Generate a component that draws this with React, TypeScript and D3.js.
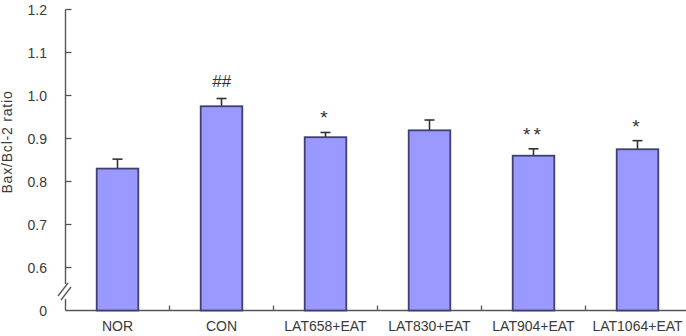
import React from "react";
import * as d3 from "d3";

const categories = ["NOR", "CON", "LAT658+EAT", "LAT830+EAT", "LAT904+EAT", "LAT1064+EAT"];
const values = [0.830, 0.975, 0.903, 0.919, 0.860, 0.875];
const errors = [0.022, 0.018, 0.011, 0.024, 0.016, 0.020];
const marks = ["", "##", "*", "", "**", "*"];
const yTicks = [0.6, 0.7, 0.8, 0.9, 1.0, 1.1, 1.2];

const W = 686;
const H = 336;

export default function App() {
  const x0 = 65.5;
  const x = d3.scaleBand<string>().domain(categories).range([x0, x0 + 624]).paddingInner(0.6).paddingOuter(0.3);
  const y = d3.scaleLinear().domain([0.5, 1.2]).range([310.5, 9.5]);
  const bw = x.bandwidth();
  const stepW = x.step();
  const bounds = categories.slice(1).map((_, i) => x0 + stepW * (i + 1));
  const font = "'Liberation Sans', Arial, sans-serif";
  const txt = "#3a3a3a";
  return (
    <svg width={W} height={H} style={{ position: "absolute", left: 0, top: 0 }}>
      <rect width={W} height={H} fill="#fff" />
      {/* y axis */}
      <line x1={x0} x2={x0} y1={y(1.2)} y2={y(0.5)} stroke="#555" strokeWidth={1.4} />
      {yTicks.map((t) => (
        <g key={t}>
          <line x1={x0} x2={x0 + 6} y1={y(t)} y2={y(t)} stroke="#555" strokeWidth={1.3} />
          <text x={47} y={y(t) + 5} fontSize={14} fontFamily={font} fill={txt} textAnchor="end">
            {t.toFixed(1)}
          </text>
        </g>
      ))}
      <text x={47} y={y(0.5) + 5} fontSize={14} fontFamily={font} fill={txt} textAnchor="end">0</text>
      {/* break marks */}
      <rect x={x0 - 2} y={284} width={5} height={15} fill="#fff" />
      <line x1={58} x2={68} y1={296} y2={283} stroke="#555" strokeWidth={1.3} />
      <line x1={61} x2={71} y1={300} y2={287} stroke="#555" strokeWidth={1.3} />
      {/* x axis */}
      <line x1={x0} x2={W} y1={y(0.5)} y2={y(0.5)} stroke="#555" strokeWidth={1.4} />
      {bounds.map((b, i) => (
        <line key={i} x1={b} x2={b} y1={y(0.5)} y2={y(0.5) - 5} stroke="#555" strokeWidth={1.3} />
      ))}
      {/* bars */}
      {categories.map((c, i) => {
        const bx = x(c)!;
        const cx = bx + bw / 2;
        const top = y(values[i]);
        const et = y(values[i] + errors[i]);
        const hash = marks[i].includes("#");
        return (
          <g key={c}>
            <line x1={cx} x2={cx} y1={top} y2={et} stroke="#333" strokeWidth={1.6} />
            <line x1={cx - 5} x2={cx + 5} y1={et} y2={et} stroke="#333" strokeWidth={1.6} />
            <rect x={bx} y={top} width={bw} height={y(0.5) - top} fill="#9999ff" stroke="#404070" strokeWidth={1.8} />
            {marks[i] && (
              <text x={cx} y={hash ? et - 12 : et - 8} fontSize={hash ? 17 : 19} fontFamily={font} fill="#333" textAnchor="middle" fontStyle={hash ? "italic" : "normal"} letterSpacing={hash ? 0 : 3}>
                {marks[i]}
              </text>
            )}
            <text x={cx} y={331} fontSize={14} fontFamily={font} fill={txt} textAnchor="middle">
              {c}
            </text>
          </g>
        );
      })}
      <text transform={`translate(12,${142}) rotate(-90)`} fontSize={14} fontFamily={font} fill={txt} textAnchor="middle" letterSpacing={0.8}>
        Bax/Bcl-2 ratio
      </text>
    </svg>
  );
}
